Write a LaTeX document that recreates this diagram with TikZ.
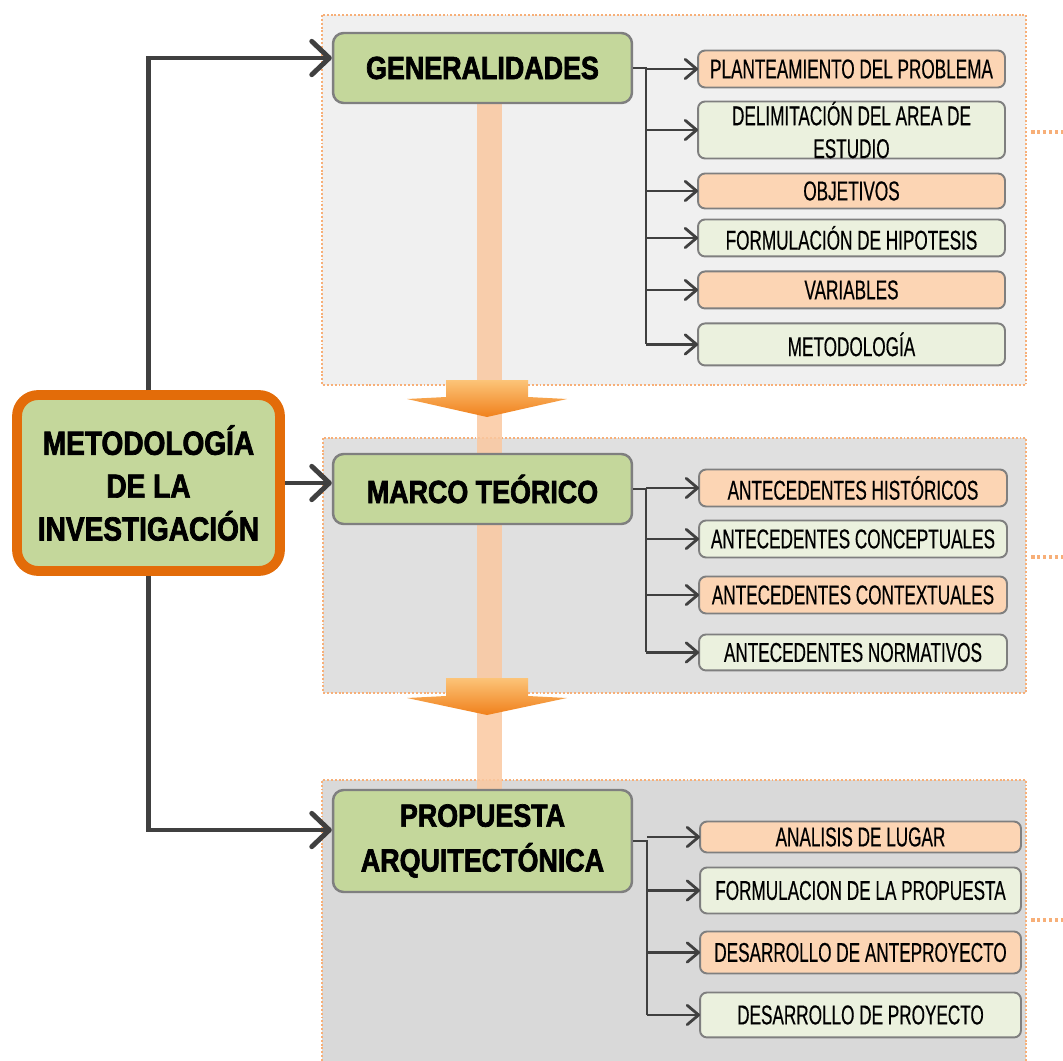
\documentclass[tikz,border=0pt]{standalone}
\usepackage{fontspec}
\setmainfont{Liberation Sans}
\newfontfamily\headfont[FakeStretch=0.84, UprightFont=* Bold, FakeBold=2.2]{Liberation Sans}
\newfontfamily\itemfont[FakeStretch=0.63, FakeBold=0.4]{Liberation Sans}
\usetikzlibrary{arrows.meta, positioning, calc}

\definecolor{titlegreen}{RGB}{196,215,155}
\definecolor{itemorange}{RGB}{252,213,180}
\definecolor{itemgreen}{RGB}{235,241,222}
\definecolor{boxline}{RGB}{127,127,127}
\definecolor{linkgray}{RGB}{64,64,64}
\definecolor{mainorange}{RGB}{227,108,9}
\definecolor{dotorange}{RGB}{247,175,120}
\definecolor{barorange}{RGB}{250,200,160}
\definecolor{arrowtop}{RGB}{252,196,120}
\definecolor{arrowbottom}{RGB}{240,128,28}
\definecolor{panelA}{RGB}{240,240,240}
\definecolor{panelB}{RGB}{224,224,224}
\definecolor{panelC}{RGB}{217,217,217}

\tikzset{
	every node/.style={
		align=center,
	},
	mainbox/.style={draw=mainorange, line width=5.6pt, fill=titlegreen, rounded corners=12pt, minimum width=5.26cm, minimum height=3.52cm, font=\headfont\fontsize{19}{24.4}\selectfont},
	titlebox/.style={draw=boxline, line width=1.4pt, fill=titlegreen, rounded corners=6pt, minimum width=5.98cm, font=\headfont\fontsize{18.2}{25.5}\selectfont},
	itembox/.style={draw=boxline, line width=1.1pt, outer sep=0pt, rounded corners=4pt, inner ysep=0pt, font=\itemfont\fontsize{15.5}{18.7}\selectfont},
	itemO/.style={itembox, fill=itemorange, minimum width=#1},
	itemG/.style={itembox, fill=itemgreen, minimum width=#1},
	mainlink/.style={draw=linkgray, line width=2.8pt, -{Straight Barb[length=10pt,width=19pt,round]}},
	sublink/.style={draw=linkgray, line width=1.6pt, -{Straight Barb[length=6.5pt,width=11pt,round]}},
	trunk/.style={draw=linkgray, line width=1.6pt},
	panelframe/.style={draw=dotorange, line width=1.1pt, dash pattern=on 1.1pt off 1.1pt},
	stub/.style={draw=dotorange, line width=2.6pt, dash pattern=on 2pt off 1.4pt},
	flowarrow/.style={top color=arrowtop, bottom color=arrowbottom},
}

\begin{document}
\begin{tikzpicture}[x=0.02cm, y=-0.02cm]
	\useasboundingbox (0,0) rectangle (1063,1061);
	\fill[panelA] (322,15) rectangle (1026,385);
	\draw[panelframe] (322,15) rectangle (1026,385);
	\fill[panelB] (323,438) rectangle (1026,693);
	\draw[panelframe] (323,438) rectangle (1026,693);
	\fill[panelC] (322,780) rectangle (1026,1061);
	\draw[panelframe] (322,1061) -- (322,780) -- (1026,780) -- (1026,1061);
	\draw[stub] (1031,132) -- (1063,132);
	\draw[stub] (1031,557) -- (1063,557);
	\draw[stub] (1031,920) -- (1063,920);
	\fill[barorange, opacity=0.85] (477,103) rectangle (502,790);
	\shade[flowarrow] (446,380) -- (528,380) -- (528,397) -- (567,399) -- (487,417) -- (407,399) -- (446,397) -- cycle;
	\shade[flowarrow] (446,678) -- (528,678) -- (528,696) -- (567,698) -- (487,715) -- (407,698) -- (446,696) -- cycle;
	\node[mainbox] (metodo) at (148.5,483) {METODOLOGÍA\\DE LA\\INVESTIGACIÓN};
	\node[titlebox, minimum height=1.4cm] (gen) at (482.5,68) {GENERALIDADES};
	\node[titlebox, minimum height=1.4cm] (marco) at (482.5,489) {MARCO TEÓRICO};
	\node[titlebox, minimum height=2.04cm] (prop) at (482.5,841) {PROPUESTA\\ARQUITECTÓNICA};
	\node[itemO=6.14cm, minimum height=0.74cm] (plant) at (851.5,69) {PLANTEAMIENTO DEL PROBLEMA};
	\node[itemG=6.14cm, minimum height=1.14cm, below=0.28cm of plant] (delim) {DELIMITACIÓN DEL AREA DE\\ESTUDIO};
	\node[itemO=6.14cm, minimum height=0.70cm, below=0.30cm of delim] (obj) {OBJETIVOS};
	\node[itemG=6.14cm, minimum height=0.74cm, below=0.22cm of obj] (hipo) {FORMULACIÓN DE HIPOTESIS};
	\node[itemO=6.14cm, minimum height=0.74cm, below=0.30cm of hipo] (vari) {VARIABLES};
	\node[itemG=6.14cm, minimum height=0.84cm, below=0.30cm of vari] (meto) {METODOLOGÍA};
	\node[itemO=6.16cm, minimum height=0.74cm] (hist) at (853,488) {ANTECEDENTES HISTÓRICOS};
	\node[itemG=6.16cm, minimum height=0.74cm, below=0.28cm of hist] (conc) {ANTECEDENTES CONCEPTUALES};
	\node[itemO=6.16cm, minimum height=0.74cm, below=0.38cm of conc] (cont) {ANTECEDENTES CONTEXTUALES};
	\node[itemG=6.16cm, minimum height=0.72cm, below=0.42cm of cont] (norm) {ANTECEDENTES NORMATIVOS};
	\node[itemO=6.42cm, minimum height=0.62cm] (lugar) at (860.5,837) {ANALISIS DE LUGAR};
	\node[itemG=6.42cm, minimum height=0.92cm, below=0.30cm of lugar] (formu) {FORMULACION DE LA PROPUESTA};
	\node[itemO=6.42cm, minimum height=0.84cm, below=0.36cm of formu] (antep) {DESARROLLO DE ANTEPROYECTO};
	\node[itemG=6.42cm, minimum height=0.90cm, below=0.38cm of antep] (proye) {DESARROLLO DE PROYECTO};
	\coordinate (t1) at (646,0);
	\coordinate (t2) at (646,0);
	\coordinate (t3) at (647,0);
	\draw[mainlink] (metodo.north) |- ([yshift=0.2cm]gen.west);
	\draw[mainlink] (metodo.east) -- (metodo.east -| marco.west);
	\draw[mainlink] (metodo.south) |- ([yshift=0.22cm]prop.west);
	\draw[trunk] (gen.east) -- (gen.east -| t1) -- (t1 |- meto.west);
	\draw[sublink] (t1 |- plant.west) -- (plant.west);
	\draw[sublink] (t1 |- delim.west) -- (delim.west);
	\draw[sublink] (t1 |- obj.west) -- (obj.west);
	\draw[sublink] (t1 |- hipo.west) -- (hipo.west);
	\draw[sublink] (t1 |- vari.west) -- (vari.west);
	\draw[sublink] (t1 |- meto.west) -- (meto.west);
	\draw[trunk] (marco.east) -- (marco.east -| t2) -- (t2 |- norm.west);
	\draw[sublink] (t2 |- hist.west) -- (hist.west);
	\draw[sublink] (t2 |- conc.west) -- (conc.west);
	\draw[sublink] (t2 |- cont.west) -- (cont.west);
	\draw[sublink] (t2 |- norm.west) -- (norm.west);
	\draw[trunk] (prop.east) -- (prop.east -| t3) -- (t3 |- proye.west);
	\draw[sublink] (t3 |- lugar.west) -- (lugar.west);
	\draw[sublink] (t3 |- formu.west) -- (formu.west);
	\draw[sublink] (t3 |- antep.west) -- (antep.west);
	\draw[sublink] (t3 |- proye.west) -- (proye.west);
\end{tikzpicture}
\end{document}
